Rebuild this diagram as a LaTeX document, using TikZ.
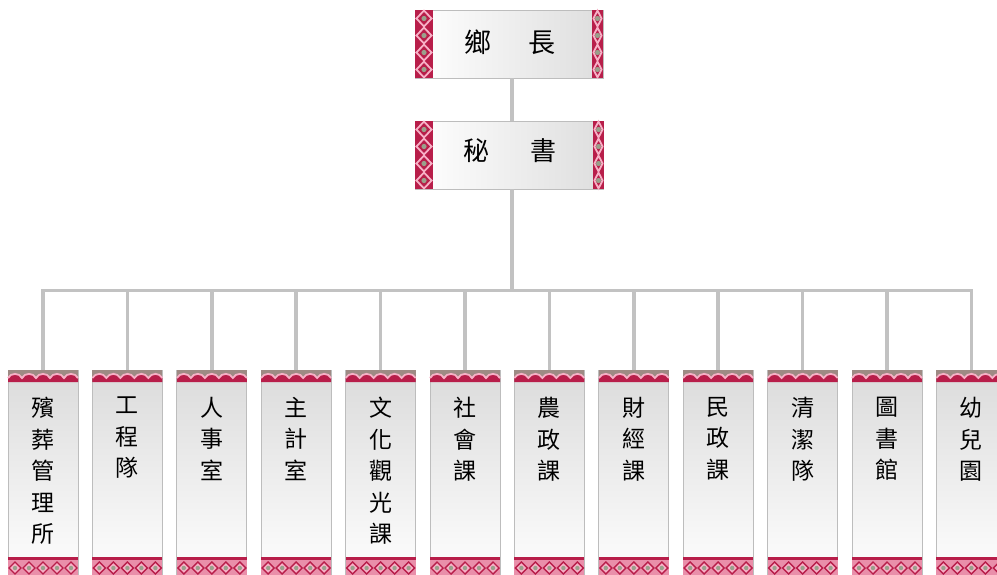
\documentclass[tikz,border=0pt]{standalone}
\usepackage{fontspec}
\newfontfamily\cjk{Noto Sans CJK TC}
\usetikzlibrary{calc}
\definecolor{crimson}{HTML}{B81E4A}
\definecolor{pinkline}{HTML}{F7B0C6}
\definecolor{bandgray}{HTML}{9E8A84}
\definecolor{dotgray}{HTML}{9AA08C}
\definecolor{pinkbg}{HTML}{E98FAA}
\definecolor{linkgray}{HTML}{C2C2C2}
\definecolor{boxborder}{HTML}{BDBDBD}
\tikzset{
  link/.style={draw=linkgray, line width=3.5pt, line join=miter},
  topbox/.style={draw=boxborder, line width=0.8pt, left color=white, right color=black!13,
    minimum width=188pt, minimum height=68pt, inner sep=0pt},
  colbox/.style={draw=boxborder, line width=0.8pt, top color=black!14, bottom color=white,
    minimum width=70pt, minimum height=212pt, inner sep=0pt},
  toptext/.style={font=\cjk\fontsize{27}{30}\selectfont, inner sep=0pt},
  coltext/.style={font=\cjk\fontsize{23}{31.5}\selectfont, align=center, inner sep=0pt},
}
\newcommand{\sidestrip}[4]{%
  \fill[crimson] (#1,#3) rectangle (#2,#4);
  \pgfmathsetmacro\sw{(#2-#1)/2}
  \pgfmathsetmacro\sx{(#1+#2)/2}
  \pgfmathsetmacro\sh{(#4-#3)/8}
  \foreach \k in {0,...,3}{
    \pgfmathsetmacro\sy{#3+\sh*(2*\k+1)}
    \draw[pinkline, line width=1.8pt] (\sx-\sw+1.4,\sy) -- (\sx,\sy-\sh+0.6) -- (\sx+\sw-1.4,\sy) -- (\sx,\sy+\sh-0.6) -- cycle;
    \fill[dotgray] (\sx,\sy) circle (2.6);
  }
}
\newcommand{\topband}[1]{%
  \pgfmathsetmacro\xa{#1-35}
  \fill[bandgray] (\xa,370) rectangle (\xa+70,382);
  \fill[crimson] (\xa,382) -- (\xa,378)
    \foreach \k in {0,...,4}{ .. controls (\xa+14*\k+3,372.5) and (\xa+14*\k+11,372.5) .. (\xa+14*\k+14,378) }
    -- (\xa+70,382) -- cycle;
  \draw[pinkline, line width=1.8pt] (\xa,378)
    \foreach \k in {0,...,4}{ .. controls (\xa+14*\k+3,372.5) and (\xa+14*\k+11,372.5) .. (\xa+14*\k+14,378) };
}
\newcommand{\botband}[1]{%
  \pgfmathsetmacro\xa{#1-35}
  \fill[pinkbg] (\xa,557) rectangle (\xa+70,580);
  \foreach \k in {0,...,4}{
    \pgfmathsetmacro\dx{\xa+7+14*\k}
    \draw[crimson, line width=1.4pt, fill=pinkline] (\dx-6,568) -- (\dx,562) -- (\dx+6,568) -- (\dx,574) -- cycle;
    \fill[dotgray] (\dx,568) circle (2.2);
  }
  \fill[crimson] (\xa,556.5) rectangle (\xa+70,559.5);
}
\begin{document}
\begin{tikzpicture}[x=1pt,y=-1pt]
\useasboundingbox (0,0) rectangle (997,574);
\clip (0,0) rectangle (997,574);
\fill[white] (0,0) rectangle (997,574);
\coordinate (trunk) at (512,290.5);
% top boxes
\node[topbox] (chief) at (509,44) {};
\sidestrip{415}{433}{10}{78}
\sidestrip{592}{603}{10}{78}
\node[toptext] (chiefname) at (510,42) {鄉\hspace{37pt}長};
\node[topbox] (sec) at (509.5,155) {};
\sidestrip{415}{433}{121}{189}
\sidestrip{593}{604}{121}{189}
\node[toptext, font=\cjk\fontsize{26}{30}\selectfont] (secname) at (510,151) {秘\hspace{42pt}書};
% bottom boxes
\foreach \t [count=\i] in {{殯\\葬\\管\\理\\所},{工\\程\\隊},{人\\事\\室},{主\\計\\室},{文\\化\\觀\\光\\課},{社\\會\\課},{農\\政\\課},{財\\經\\課},{民\\政\\課},{清\\潔\\隊},{圖\\書\\館},{幼\\兒\\園}}{
  \pgfmathsetmacro\cx{43+84.4*(\i-1)}
  \node[colbox, anchor=north] (b\i) at (\cx,370) {};
  \topband{\cx}
  \botband{\cx}
  \node[coltext, anchor=north] (t\i) at ($(b\i.north)+(0,27)$) {\t};
}
% connectors
\draw[link] (chief.south -| trunk) -- (sec.north -| trunk);
\draw[link] (sec.south -| trunk) -- (trunk);
\draw[link] (b1.north) -- (b1.north |- trunk) -- (b12.north |- trunk) -- (b12.north);
\foreach \i in {2,...,11}{
  \draw[link] (b\i.north |- trunk) -- (b\i.north);
}
\end{tikzpicture}
\end{document}
